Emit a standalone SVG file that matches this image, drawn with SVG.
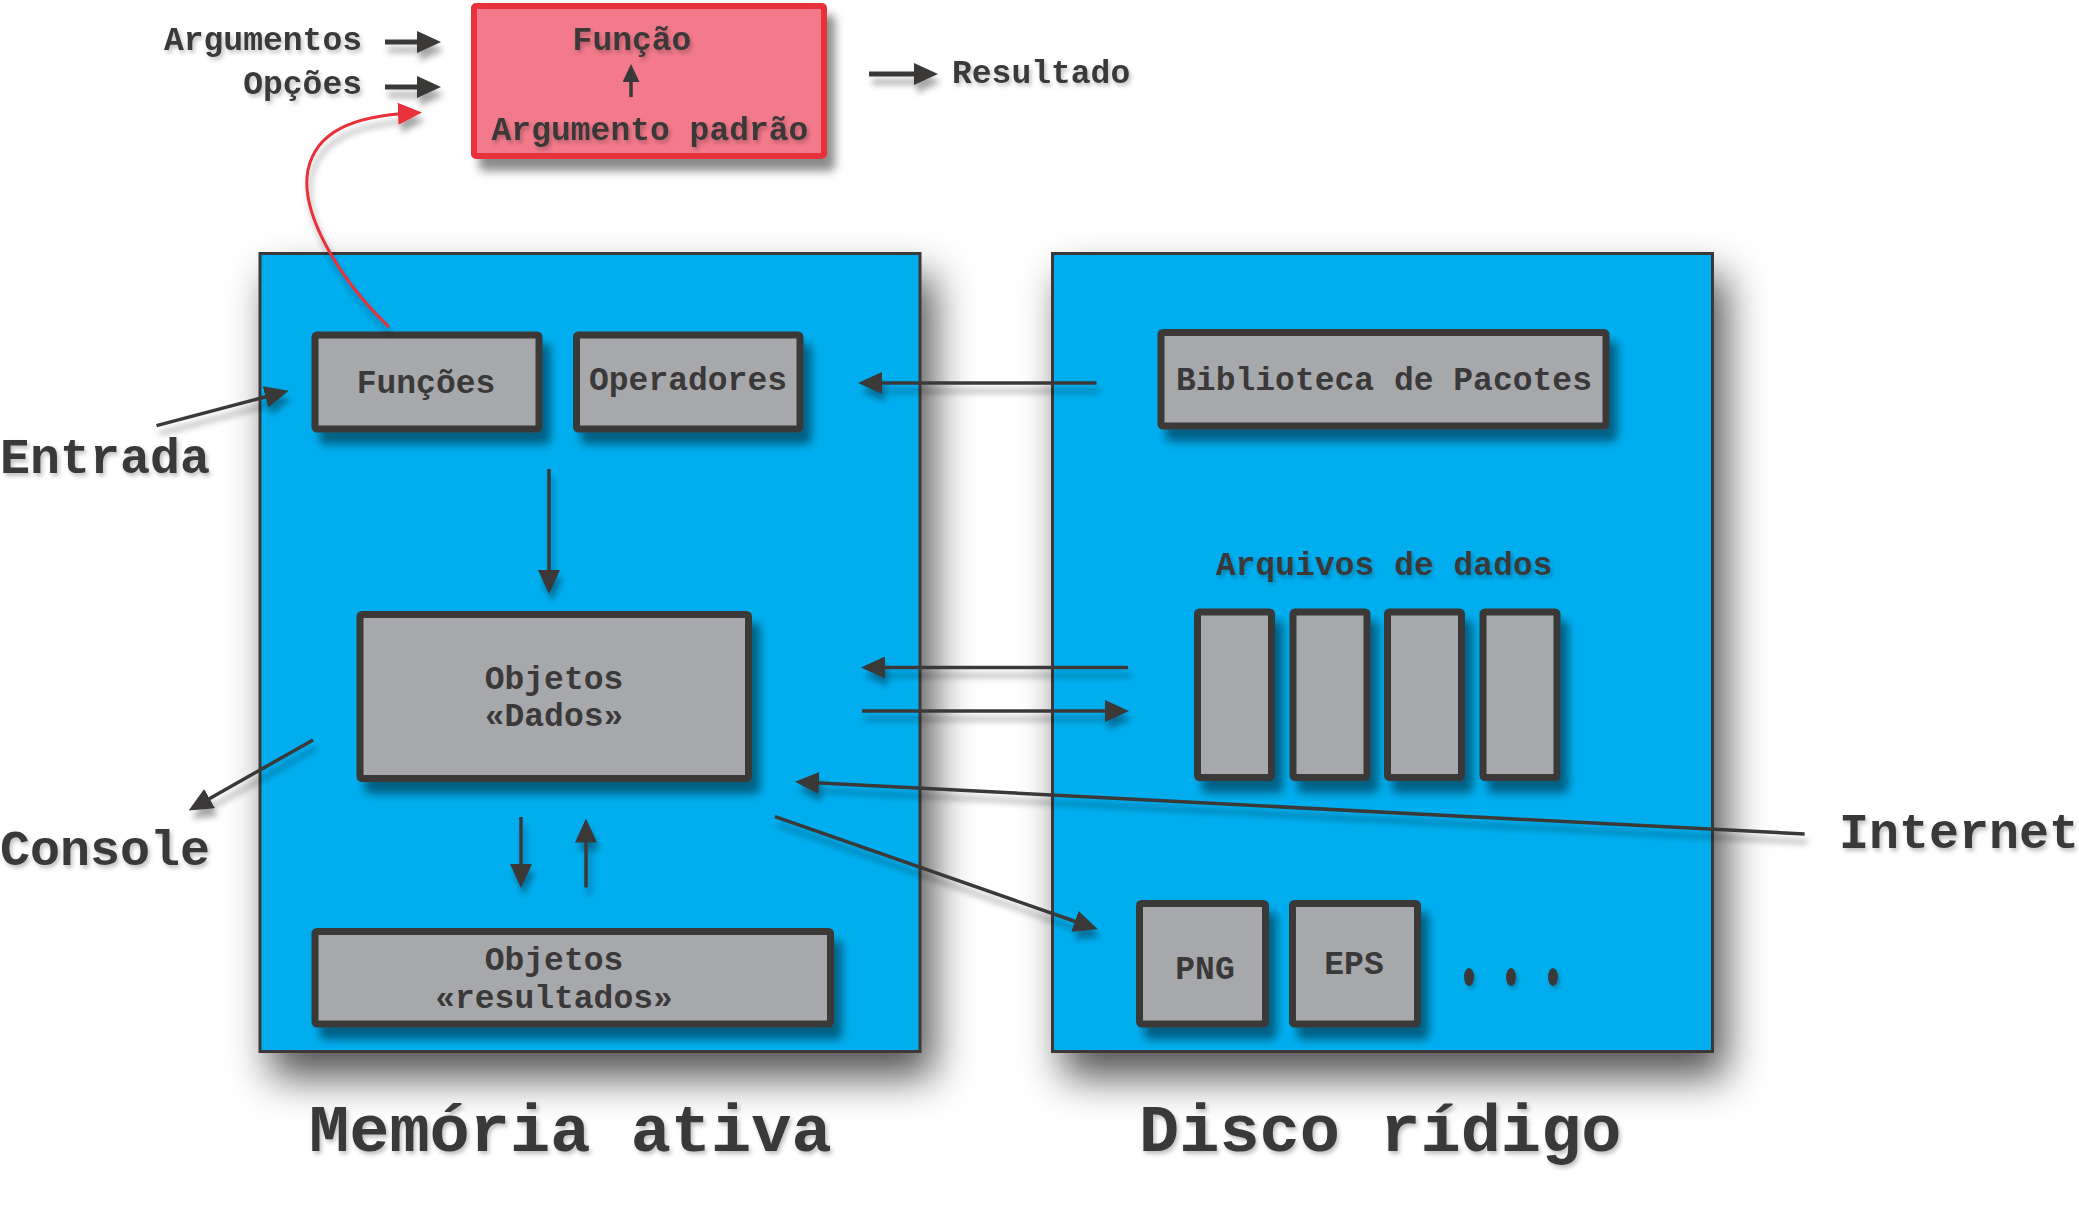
<svg xmlns="http://www.w3.org/2000/svg" width="2079" height="1214" viewBox="0 0 2079 1214">
<defs>
<style>
.t{font-family:"Liberation Mono","DejaVu Sans Mono",monospace;font-weight:bold;fill:#3a3839;}
.s{font-size:33px;}
.l{font-size:50px;}
.xl{font-size:67px;}
.mid{text-anchor:middle;}
.end{text-anchor:end;}
.panel{fill:#00aeef;stroke:#3a3839;stroke-width:3;}
.box{fill:#a7a8ab;stroke:#3a3839;stroke-width:7;}
.ln{stroke:#3a3839;stroke-width:3.5;fill:none;}
.thick{stroke-width:5;}
.red{stroke:#e8303a;stroke-width:3;fill:none;}
</style>
<filter id="bigsh" x="-20%" y="-20%" width="150%" height="150%">
<feDropShadow dx="12" dy="24" stdDeviation="20" flood-color="#000" flood-opacity="0.68"/>
</filter>
<filter id="sh" x="-20%" y="-20%" width="150%" height="160%">
<feDropShadow dx="8" dy="12" stdDeviation="5" flood-color="#000" flood-opacity="0.45"/>
</filter>
<filter id="lsh" x="-20%" y="-50%" width="150%" height="250%">
<feDropShadow dx="3" dy="8" stdDeviation="3" flood-color="#000" flood-opacity="0.35"/>
</filter>
<filter id="tsh" x="-10%" y="-30%" width="130%" height="170%">
<feDropShadow dx="2" dy="3" stdDeviation="2" flood-color="#000" flood-opacity="0.25"/>
</filter>
<marker id="ah" viewBox="0 0 24 22" markerWidth="24" markerHeight="22" refX="14" refY="11" orient="auto" markerUnits="userSpaceOnUse">
<path d="M0,0 L24,11 L0,22 z" fill="#3a3839"/>
</marker>
<marker id="ahs" viewBox="0 0 18 17" markerWidth="18" markerHeight="17" refX="10" refY="8.5" orient="auto" markerUnits="userSpaceOnUse">
<path d="M0,0 L18,8.5 L0,17 z" fill="#3a3839"/>
</marker>
<marker id="ahr" viewBox="0 0 24 22" markerWidth="24" markerHeight="22" refX="14" refY="11" orient="auto" markerUnits="userSpaceOnUse">
<path d="M0,0 L24,11 L0,22 z" fill="#e8303a"/>
</marker>
</defs>

<g id="panels">
<g id="memoria-ativa"><rect class="panel" x="260" y="253.5" width="660" height="798" filter="url(#bigsh)"/></g>
<g id="disco-rigido"><rect class="panel" x="1052.5" y="253.5" width="660" height="798" filter="url(#bigsh)"/></g>
</g>

<g id="funcao">
<rect x="474" y="6" width="350" height="150" fill="#f37a8a" stroke="#e8303a" stroke-width="6" rx="2" filter="url(#sh)"/>
<text class="t s mid" x="632" y="50" filter="url(#tsh)">Função</text>
<text class="t s mid" x="650" y="140" filter="url(#tsh)">Argumento padrão</text>
<line class="ln" x1="631" y1="97" x2="631" y2="72" stroke-width="2.5" marker-end="url(#ahs)"/>
</g>

<g id="funcoes"><rect class="box" x="315" y="335" width="224" height="94" rx="2" filter="url(#sh)"/>
<text class="t s mid" x="426" y="393">Funções</text></g>
<g id="operadores"><rect class="box" x="576.5" y="335" width="223.5" height="94" rx="2" filter="url(#sh)"/>
<text class="t s mid" x="688" y="390">Operadores</text></g>
<g id="biblioteca"><rect class="box" x="1161" y="332.5" width="445" height="93.5" rx="2" filter="url(#sh)"/>
<text class="t s mid" x="1384" y="390">Biblioteca de Pacotes</text></g>
<g id="objetos-dados"><rect class="box" x="360" y="614.5" width="388.5" height="164" rx="2" filter="url(#sh)"/>
<text class="t s mid" x="554" y="689">Objetos</text>
<text class="t s mid" x="554" y="726">«Dados»</text></g>
<g id="objetos-resultados"><rect class="box" x="315" y="931.5" width="515.5" height="92.5" rx="2" filter="url(#sh)"/>
<text class="t s mid" x="554" y="970">Objetos</text>
<text class="t s mid" x="554" y="1008">«resultados»</text></g>
<g id="arquivos-de-dados">
<text class="t s mid" x="1384" y="575" filter="url(#tsh)">Arquivos de dados</text>
<rect class="box" x="1197.5" y="612" width="74" height="165.5" rx="2" filter="url(#sh)"/>
<rect class="box" x="1293" y="612" width="74" height="165.5" rx="2" filter="url(#sh)"/>
<rect class="box" x="1387.5" y="612" width="74" height="165.5" rx="2" filter="url(#sh)"/>
<rect class="box" x="1483" y="612" width="74" height="165.5" rx="2" filter="url(#sh)"/>
</g>
<g id="png"><rect class="box" x="1139.5" y="903.5" width="126" height="120.5" rx="2" filter="url(#sh)"/>
<text class="t s mid" x="1205" y="979">PNG</text></g>
<g id="eps"><rect class="box" x="1292.5" y="903.5" width="125" height="120.5" rx="2" filter="url(#sh)"/>
<text class="t s mid" x="1354" y="974">EPS</text></g>
<g id="mais" fill="#3a3839" filter="url(#tsh)">
<ellipse cx="1469" cy="977" rx="5" ry="9"/>
<ellipse cx="1511" cy="977" rx="5" ry="9"/>
<ellipse cx="1553" cy="977" rx="5" ry="9"/>
</g>

<g id="labels" filter="url(#tsh)">
<text class="t s end" x="362" y="50">Argumentos</text>
<text class="t s end" x="362" y="94">Opções</text>
<text class="t s" x="952" y="83">Resultado</text>
<text class="t l" x="0" y="473">Entrada</text>
<text class="t l" x="0" y="865">Console</text>
<text class="t l" x="1839" y="848">Internet</text>
<text class="t xl" x="309" y="1151">Memória ativa</text>
<text class="t xl" x="1139" y="1151">Disco rídigo</text>
</g>

<g id="connectors" filter="url(#lsh)">
<line class="ln thick" x1="385" y1="42" x2="431" y2="42" marker-end="url(#ah)"/>
<line class="ln thick" x1="385" y1="87" x2="431" y2="87" marker-end="url(#ah)"/>
<line class="ln thick" x1="869" y1="74" x2="928" y2="74" marker-end="url(#ah)"/>
<path class="red" d="M389,327 C335,275 300,210 308,170 C316,132 352,116 412,113" marker-end="url(#ahr)"/>
<line class="ln" x1="156.5" y1="425.6" x2="279" y2="393.3" marker-end="url(#ah)"/>
<line class="ln" x1="549" y1="469" x2="549" y2="584" marker-end="url(#ah)"/>
<line class="ln" x1="1096.5" y1="383" x2="868" y2="383" marker-end="url(#ah)"/>
<line class="ln" x1="1128" y1="667.5" x2="871" y2="667.5" marker-end="url(#ah)"/>
<line class="ln" x1="862" y1="711" x2="1119" y2="711" marker-end="url(#ah)"/>
<line class="ln" x1="1804.6" y1="834" x2="805" y2="782.2" marker-end="url(#ah)"/>
<line class="ln" x1="775" y1="816.7" x2="1088.2" y2="926" marker-end="url(#ah)"/>
<line class="ln" x1="313" y1="740" x2="197.4" y2="805.5" marker-end="url(#ah)"/>
<line class="ln" x1="521" y1="817" x2="521" y2="878" marker-end="url(#ah)"/>
<line class="ln" x1="586" y1="887.5" x2="586" y2="828.5" marker-end="url(#ah)"/>
</g>
</svg>
